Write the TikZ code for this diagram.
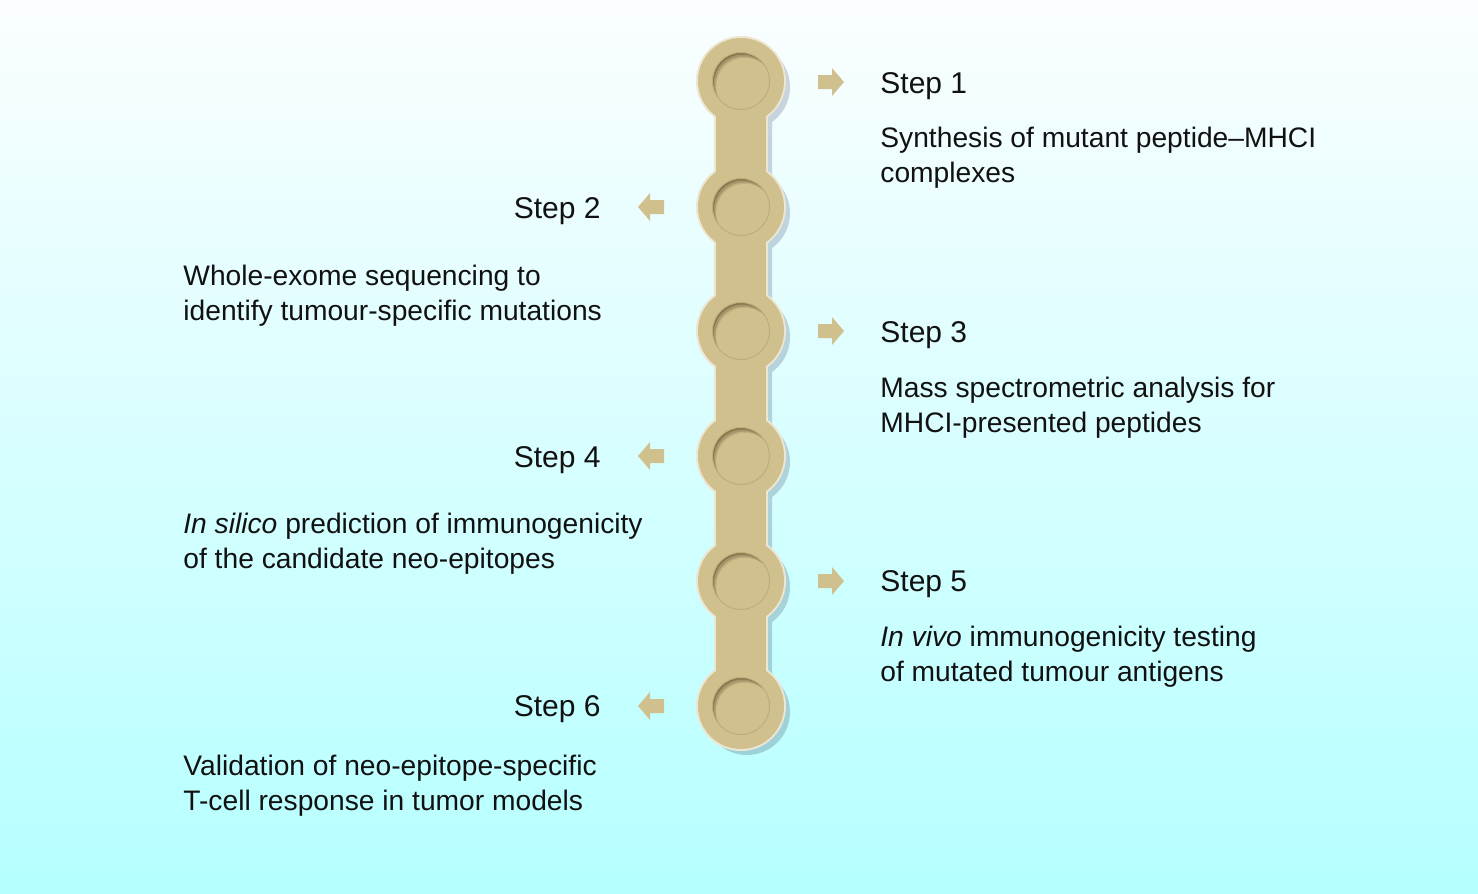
\documentclass[tikz,border=0pt]{standalone}
\usepackage{fontspec}
\setmainfont{Liberation Sans}
\definecolor{bgtop}{RGB}{251,254,255}
\definecolor{bgbot}{RGB}{181,255,255}
\definecolor{shtop}{RGB}{205,213,222}
\definecolor{shbot}{RGB}{148,208,216}
\definecolor{chaintan}{RGB}{208,192,142}
\definecolor{chainrim}{RGB}{236,230,210}
\definecolor{chaindark}{RGB}{135,118,76}
\definecolor{chainmid}{RGB}{165,149,105}
\definecolor{chainlite}{RGB}{190,174,126}
\definecolor{txt}{RGB}{17,17,17}
\tikzset{
  steptext/.style={font=\fontsize{15}{18}\selectfont, text=txt, inner sep=0pt},
  bodytext/.style={font=\fontsize{14.1}{17.2}\selectfont, text=txt, inner sep=0pt, align=left},
  arrowfill/.style={fill=chaintan},
}
\begin{document}
\begin{tikzpicture}[x=0.5pt,y=-0.5pt]
\shade[top color=bgtop, bottom color=bgbot] (0,0) rectangle (1478,894);
\useasboundingbox (0,0) rectangle (1478,894);
% chain centres
\foreach \i/\y in {1/81,2/207,3/331,4/456,5/581,6/706}
  \coordinate (c\i) at (741,\y);
% shadow (opaque shading clipped to the offset chain outline)
\begin{scope}
  \clip ([shift={(-19,6)}]c1) rectangle ([shift={(31,6)}]c6);
  \shade[top color=shtop, bottom color=shbot] (0,0) rectangle (1478,894);
\end{scope}
\foreach \i in {1,...,6} {
  \begin{scope}
    \clip ([shift={(6,6)}]c\i) circle[radius=43];
    \shade[top color=shtop, bottom color=shbot] (0,0) rectangle (1478,894);
  \end{scope}
}
% rim
\draw[chainrim, line width=2] ([shift={(-25,0)}]c1) rectangle ([shift={(25,0)}]c6);
\foreach \i in {1,...,6} \draw[chainrim, line width=2] (c\i) circle[radius=43];
% body
\fill[chaintan] ([shift={(-25,0)}]c1) rectangle ([shift={(25,0)}]c6);
\foreach \i in {1,...,6} \fill[chaintan] (c\i) circle[radius=43];
% inner wells
\foreach \i in {1,...,6} {
  \begin{scope}
    \clip (c\i) circle[radius=28.5];
    \fill[chaindark] (c\i) circle[radius=28.5];
    \fill[chainmid] ([shift={(1.4,2)}]c\i) circle[radius=28.5];
    \fill[chainlite] ([shift={(2.8,4)}]c\i) circle[radius=28.5];
    \fill[chaintan] ([shift={(4,5.6)}]c\i) circle[radius=28.8];
  \end{scope}
  \draw[chainlite, line width=0.5] (c\i) circle[radius=28.5];
}
% small arrows
\foreach \y in {82,331,581}
  \fill[arrowfill] (818,\y-7) -- (832,\y-7) -- (832,\y-14) -- (844,\y) -- (832,\y+14) -- (832,\y+7) -- (818,\y+7) -- cycle;
\foreach \y in {207,456,706}
  \fill[arrowfill] (664,\y-7) -- (650,\y-7) -- (650,\y-14) -- (638,\y) -- (650,\y+14) -- (650,\y+7) -- (664,\y+7) -- cycle;
% texts right (anchor = baseline of last line)
\node[steptext, anchor=base west] (s1) at (880,93) {Step 1};
\node[bodytext, anchor=base west] (d1) at (880,182) {Synthesis of mutant peptide–MHCI\\complexes};
\node[steptext, anchor=base west] (s3) at (880,342) {Step 3};
\node[bodytext, anchor=base west] (d3) at (880,432) {Mass spectrometric analysis for\\MHCI-presented peptides};
\node[steptext, anchor=base west] (s5) at (880,591) {Step 5};
\node[bodytext, anchor=base west] (d5) at (880,681) {\textit{In vivo} immunogenicity testing\\of mutated tumour antigens};
% texts left
\node[steptext, anchor=base east] (s2) at (601,218) {Step 2};
\node[bodytext, anchor=base west] (d2) at (183,320) {Whole-exome sequencing to\\identify tumour-specific mutations};
\node[steptext, anchor=base east] (s4) at (601,467) {Step 4};
\node[bodytext, anchor=base west] (d4) at (183,568) {\textit{In silico} prediction of immunogenicity\\of the candidate neo-epitopes};
\node[steptext, anchor=base east] (s6) at (601,716) {Step 6};
\node[bodytext, anchor=base west] (d6) at (183,810) {Validation of neo-epitope-specific\\T-cell response in tumor models};
\end{tikzpicture}
\end{document}
